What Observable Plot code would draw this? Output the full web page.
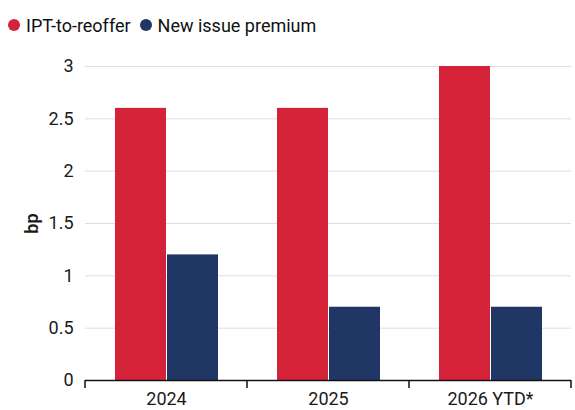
<!DOCTYPE html>
<html><head><meta charset="utf-8">
<script src="https://cdn.jsdelivr.net/npm/d3@7"></script>
<script src="https://cdn.jsdelivr.net/npm/@observablehq/plot@0.6"></script>
<style>
body{margin:0;background:#fff;font-family:Roboto, "Noto Sans", sans-serif;}
#legend{height:40px;display:flex;align-items:center;padding-left:8px;padding-top:10px;box-sizing:border-box;font-size:18px;color:#111;}
.item{display:flex;align-items:center;margin-right:9px}
.sw{width:12px;height:12px;border-radius:50%;margin-right:6px}
</style></head><body>
<div id="legend"></div><div id="chart"></div>
<script>
const years = ["2024", "2025", "2026 YTD*"];
const seriesNames = ["IPT-to-reoffer", "New issue premium"];
const iptValues = [2.6, 2.6, 3.0];
const nipValues = [1.2, 0.7, 0.7];
const yTicks = [0, 0.5, 1, 1.5, 2, 2.5, 3];
const colors = ["#d42338", "#203766"];

const data = [];
years.forEach((y, i) => {
  data.push({year: y, series: seriesNames[0], value: iptValues[i]});
  data.push({year: y, series: seriesNames[1], value: nipValues[i]});
});

const legend = document.getElementById("legend");
seriesNames.forEach((s, i) => {
  const it = document.createElement("div");
  it.className = "item";
  it.innerHTML = `<span class="sw" style="background:${colors[i]}"></span><span>${s}</span>`;
  legend.appendChild(it);
});

const plot = Plot.plot({
  width: 575,
  height: 370,
  marginTop: 26,
  marginBottom: 30,
  marginLeft: 84,
  marginRight: 3,
  style: {fontFamily: "Roboto, 'Noto Sans', sans-serif", fontSize: "18px", color: "#1a1a1a", background: "#fff"},
  fx: {domain: years, padding: 0, label: null},
  x: {domain: seriesNames, paddingInner: 0.02, paddingOuter: 0.56, axis: null},
  y: {domain: [0, 3], ticks: yTicks, label: "bp"},
  color: {domain: seriesNames, range: colors},
  marks: [
    Plot.gridY(yTicks, {stroke: "#dedede", strokeOpacity: 1}),
    Plot.axisY(yTicks, {tickSize: 0, tickPadding: 12, label: "bp", labelAnchor: "center", labelArrow: "none", labelOffset: 60, tickFormat: d => String(d)}),
    Plot.axisFx({anchor: "bottom", tickSize: 0, tickPadding: 12, label: null}),
    Plot.barY(data, {fx: "year", x: "series", y: "value", fill: "series"}),
    Plot.ruleY([0], {stroke: "#111", strokeWidth: 1.5})
  ]
});
document.getElementById("chart").appendChild(plot);

// tick marks at category boundaries, from the fx scale
const fx = plot.scale("fx");
const y0 = plot.scale("y").apply(0);
const bounds = years.map(d => fx.apply(d));
bounds.push(fx.apply(years[years.length - 1]) + fx.bandwidth);
const svg = d3.select(plot);
svg.append("g").selectAll("line").data(bounds).join("line")
  .attr("x1", d => d).attr("x2", d => d)
  .attr("y1", y0).attr("y2", y0 + 8)
  .attr("stroke", "#111").attr("stroke-width", 1.5);
svg.selectAll("[aria-label='y-axis label'] text, [aria-label='y-axis label']").style("font-weight", "600");
</script>
</body></html>
